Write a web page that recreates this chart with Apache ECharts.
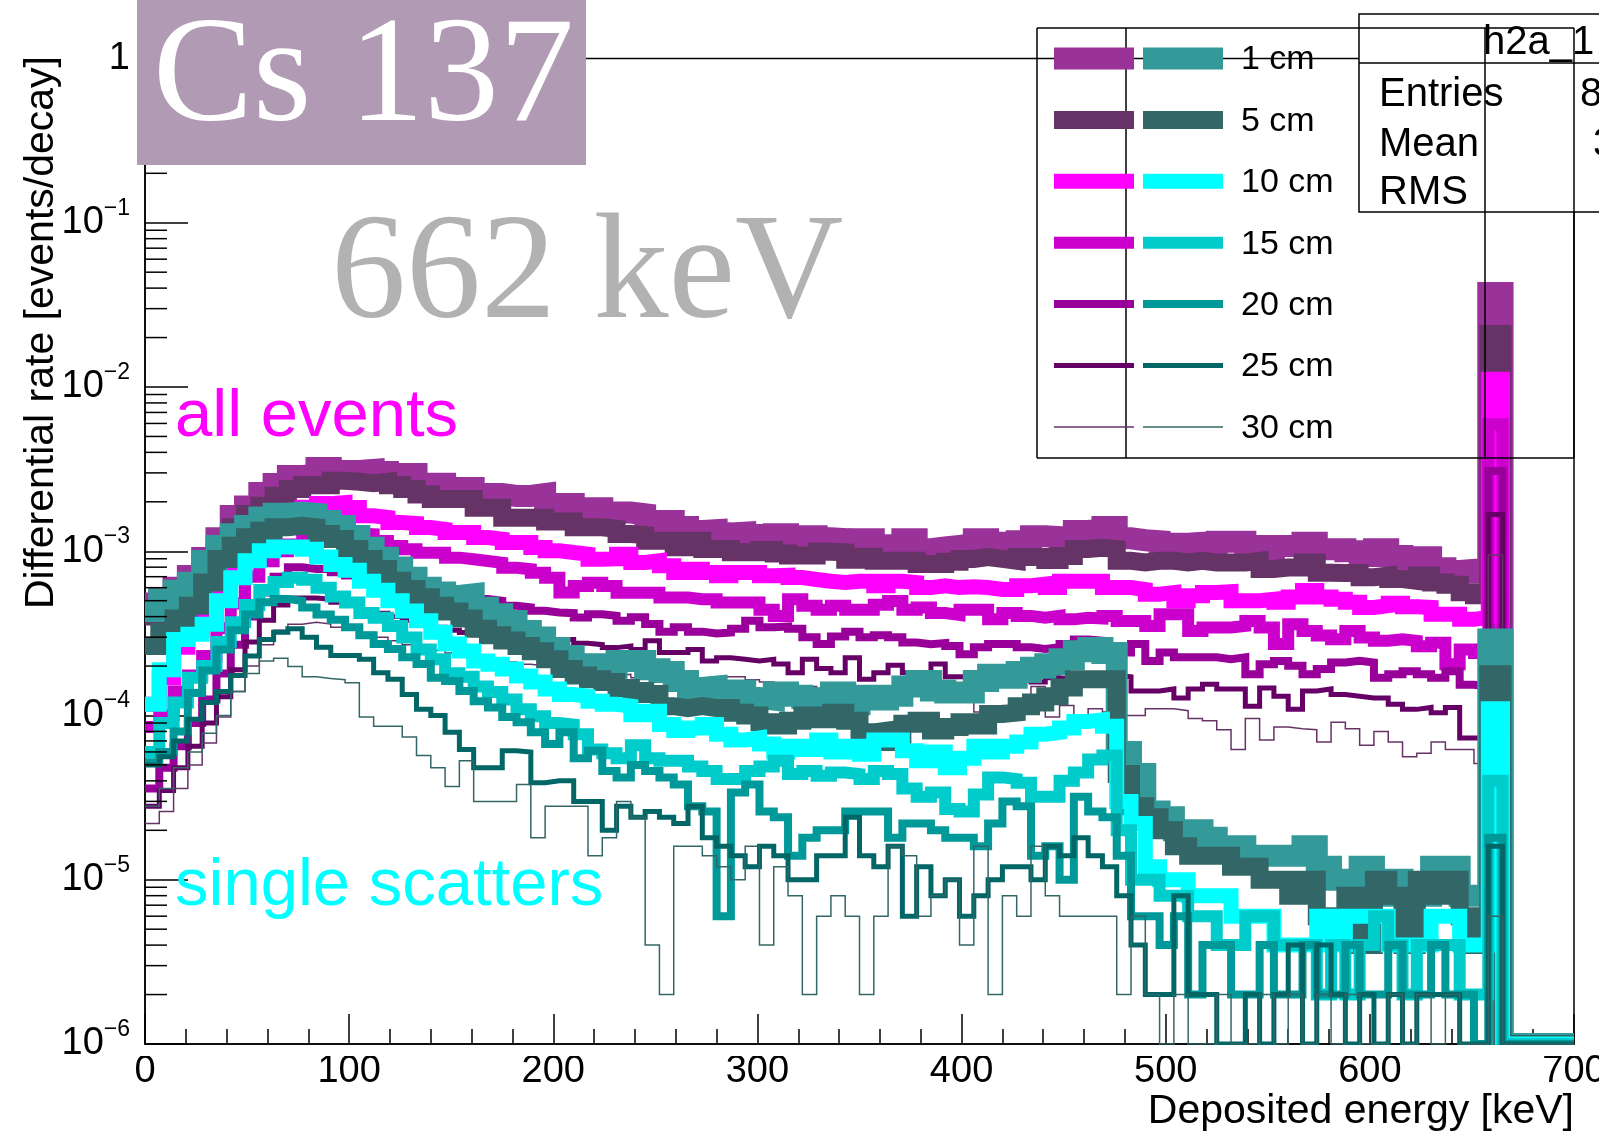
<!DOCTYPE html>
<html>
<head>
<meta charset="utf-8">
<script src="https://cdn.jsdelivr.net/npm/echarts@6/dist/echarts.min.js"></script>
<style>
  html, body { margin: 0; padding: 0; background: #fff; }
  #chart { width: 1599px; height: 1141px; }
</style>
</head>
<body>
<div id="chart"></div>
<script>
// Deposited-energy spectra of the Cs-137 662 keV line, 100 bins of 7 keV (0-700 keV).
// Rates are listed in units of 1e-6 events/decay; 0 marks an empty bin.
const BIN_KEV = 7;
const RATE_UNIT = 1e-6;
const Y_MIN = 1e-6;
const Y_MAX = 1;

const distances = ['1 cm', '5 cm', '10 cm', '15 cm', '20 cm', '25 cm', '30 cm'];
const allColors = ['#993399', '#663366', '#ff00ff', '#cc00cc', '#990099', '#660066', '#663366'];
const singleColors = ['#339999', '#336666', '#00ffff', '#00cccc', '#009999', '#006666', '#336666'];
const lineWidths = [22, 18, 15, 12, 8, 5, 1.5];

const xTicks = [0, 100, 200, 300, 400, 500, 600, 700];

// ---- all events ----
const allEvents1cm = [480, 520, 600, 707, 910, 1200, 1640, 1870, 2260, 2570, 2870, 2950, 3210, 3080,
  3080, 3130, 3040, 2950, 2950, 2580, 2580, 2430, 2430, 2230, 2230, 2170, 2170, 2230, 1940, 1940, 1830, 1830,
  1720, 1720, 1680, 1530, 1530, 1405, 1330, 1345, 1285, 1300, 1255, 1200, 1270, 1185, 1235, 1200, 1185, 1150,
  1185, 1087, 1087, 1185, 1030, 1055, 1077, 1103, 1185, 1125, 1077, 1150, 1235, 1220, 1150, 1330, 1360,
  1405, 1200, 1167, 1150, 1077, 1110, 1125, 1055, 1143, 1143, 1077, 1013, 1077, 1077, 1125, 1030, 1030, 1000,
  937, 1030, 937, 886, 920, 787, 758, 770, 745,
  37350, 0, 0, 0, 0, 0];

const allEvents5cm = [400, 430, 490, 604, 727, 1033, 1400, 1685, 1894, 2178, 2394, 2520, 2520,
  2690, 2650, 2600, 2650, 2520, 2394, 2213, 2080, 2080, 2080, 1840, 1840, 1600, 1600, 1600, 1520, 1520, 1400, 1400,
  1370, 1274, 1255, 1160, 1160, 1057, 1160, 1033, 1033, 985, 985, 1018, 970, 943, 943, 993, 985, 889, 926, 875,
  875, 875, 836, 836, 862, 898, 922, 898, 875, 922, 922, 884, 934, 1033, 1050,
  1033, 875, 855, 875, 875, 855, 875, 855, 855, 855, 875, 780, 797, 797, 855, 740, 737, 737, 694, 710,
  677, 660, 710, 645, 626, 562, 540,
  21020, 0, 0, 0, 0, 0];

const allEvents10cm = [117, 170, 260, 330, 400, 560, 780, 1020, 1280, 1500, 1700, 1850, 1950,
  1980, 1846, 1645, 1605, 1497, 1475, 1395, 1361, 1300, 1300, 1212, 1184, 1131, 1131, 1054, 1006, 983, 961, 895, 900,
  958, 854, 875, 816, 743, 778, 743, 710, 743, 743, 710, 715, 692, 673, 657, 645, 657, 657, 616, 657,
  645, 601, 616, 601, 608, 601, 585, 585, 616, 630, 601, 657, 657, 657,
  601, 601, 585, 548, 560, 500, 536, 560, 567, 500, 500, 510, 490, 527, 577, 527, 510, 490, 455, 467,
  483, 460, 455, 414, 414, 385, 395,
  11160, 0, 0, 0, 0, 0];

const allEvents15cm = [85, 100, 140, 175, 230, 340, 480, 700, 870, 1000, 1100, 1180, 1230, 1260, 1280,
  1269, 1155, 1077, 1028, 980, 979, 914, 893, 872, 851, 794, 777, 741, 690, 560, 614, 644, 614,
  559, 559, 559, 522, 522, 510, 510, 487, 487, 487, 441, 404, 510, 465, 441, 465, 441, 441, 472, 498,
  441, 455, 421, 410, 441, 441, 385, 421, 404, 394, 404, 385, 394, 390,
  404, 376, 376, 351, 413, 413, 327, 343, 343, 351, 376, 343, 272, 360, 327, 307, 291, 327, 298, 285,
  291, 285, 264, 277, 205, 252, 240,
  5930, 0, 0, 0, 0, 0];

const allEvents20cm = [36, 48, 65, 90, 125, 180, 270, 400, 560, 700, 799, 780, 780,
  744, 712, 662, 632, 604, 575, 562, 560, 590, 549, 512, 500, 466, 455, 434, 424, 420, 395, 414, 405,
  378, 397, 361, 324, 345, 324, 316, 320, 337, 378, 345, 348, 337, 299, 272, 303, 324, 299, 308, 299,
  278, 272, 276, 265, 236, 260, 272, 272, 260, 254, 260, 272, 290, 285,
  260, 242, 272, 215, 242, 226, 226, 226, 220, 226, 178, 205, 215, 201, 178, 192, 210, 215, 210, 170,
  178, 186, 178, 170, 186, 154, 150,
  3081, 0, 0, 0, 0, 0];

const allEvents25cm = [28, 35, 48, 65, 90, 130, 190, 280, 380, 470, 520, 520, 510, 490, 470, 440, 420, 400, 380, 360,
  345, 330, 320, 310, 300, 295, 290, 285, 280, 290, 275, 270, 259,
  265, 252, 285, 242, 242, 252, 215, 225, 220, 215, 220, 206, 182, 220, 193, 182, 225, 166, 182, 202,
  182, 177, 206, 172, 172, 168, 175, 165, 172, 160, 170, 166, 160, 165,
  175, 172, 141, 141, 145, 128, 145, 155, 145, 145, 114, 147, 131, 109, 141, 145, 134, 131, 128, 128,
  117, 109, 112, 104, 112, 73, 73,
  1674, 0, 0, 0, 0, 0];

const allEvents30cm = [22, 26, 36, 50, 68, 98, 140, 200, 270, 330, 360, 370, 360, 345, 330, 320, 300, 285, 270, 260,
  250, 240, 235, 225, 220, 212, 205, 200, 195, 190, 185, 180, 176,
  178, 170, 175, 168, 165, 170, 160, 172, 172, 165, 160, 146, 150, 150, 103, 130, 135, 128, 140, 125,
  132, 138, 130, 130, 125, 105, 107, 115, 115, 150, 98, 115, 95, 110, 105, 100,
  100, 110, 110, 107, 96, 93, 82, 62, 96, 71, 85, 83, 82, 69, 91, 83, 66, 80, 69, 56,
  59, 69, 62, 62, 51,
  949, 0, 0, 0, 0, 0];

// ---- single scatters ----
const single1cm = [433, 510, 575, 644, 872, 1077, 1269, 1425, 1605, 1690, 1723, 1690, 1528, 1425, 1238, 1052, 914, 796, 690, 600,
  560, 534, 547, 453, 413, 376, 327, 298, 258, 230, 205, 205, 195,
  215, 215, 191, 184, 162, 147, 150, 138, 142, 128, 125, 138, 132, 128, 125, 138, 117, 132, 125, 132,
  150, 162, 142, 138, 138, 162, 177, 170, 184, 195, 205, 220, 246, 258, 240,
  60, 44, 26, 24, 20, 20, 18, 16, 16, 14, 14, 14, 14, 16, 12, 10, 10, 12, 8, 10,
  8, 8, 12, 12, 8, 8,
  290, 0, 0, 0, 0, 0];

const single5cm = [265, 324, 390, 466, 646, 898, 1081, 1216, 1334, 1400, 1430, 1400, 1274, 1187, 1033, 898, 780, 662, 589, 524,
  466, 430, 390, 337, 308, 286, 265, 246, 220, 192, 175, 166, 160,
  147, 141, 135, 114, 111, 114, 111, 111, 104, 100, 91, 87, 93, 100, 95, 104, 93, 79, 81, 69,
  89, 93, 81, 85, 91, 87, 102, 104, 114, 120, 131, 148, 166, 166, 166,
  44, 28, 24, 20, 16, 14, 14, 14, 12, 12, 10, 10, 8, 10, 6, 6, 8, 4, 10, 8,
  4, 10, 8, 10, 6, 4,
  178, 0, 0, 0, 0, 0];

const single10cm = [117, 190, 290, 312, 360, 500, 690, 875, 1006, 1062, 1062, 1030, 923, 830, 767, 656, 579, 500, 432, 377,
  321, 272, 247, 215, 205, 192, 174, 160, 145, 134, 131, 122, 117,
  114, 101, 106, 88, 81, 84, 88, 77, 71, 73, 67, 60, 65, 62, 71, 60, 65, 58, 71, 71,
  61, 53, 60, 48, 55, 65, 60, 65, 69, 77, 79, 84, 92, 94, 86,
  30, 22, 12, 10, 10, 8, 8, 8, 6, 6, 6, 4, 4, 4, 6, 4, 6, 6, 6, 4,
  4, 4, 6, 6, 4, 4,
  110, 0, 0, 0, 0, 0];

const single15cm = [60, 90, 120, 170, 200, 280, 370, 470, 580, 650, 690, 670, 600, 530, 487, 421, 394, 351, 298, 252,
  220, 181, 172, 150, 139, 125, 109, 99, 90, 88, 77, 62, 59,
  55, 66, 55, 53, 53, 49, 46, 41, 41, 46, 49, 53, 44, 46, 43, 45, 44, 41, 46, 44,
  36, 32, 34, 27, 26, 33, 42, 41, 39, 32, 32, 40, 45, 54, 57,
  20, 10, 10, 8, 8, 6, 6, 4, 4, 6, 6, 4, 4, 4, 2, 4, 2, 4, 6, 4,
  2, 4, 4, 4, 2, 2,
  40, 0, 0, 0, 0, 0];

const single20cm = [52, 60, 80, 137, 188, 252, 330, 412, 490, 512, 500, 455, 412, 383, 345, 308, 272, 254, 226, 206,
  170, 162, 141, 122, 112, 98, 91, 79, 67, 79, 55, 61, 46,
  42, 50, 46, 42, 38, 28, 26, 6, 34, 38, 26, 24, 14, 18, 20, 20, 26, 26, 26, 18,
  22, 22, 20, 18, 18, 16, 22, 30, 28, 14, 16, 10, 32, 26, 24,
  14, 6, 6, 4, 6, 2, 4, 4, 2, 2, 4, 2, 2, 4, 2, 2, 4, 2, 2, 4,
  2, 2, 4, 2, 2, 0,
  18, 0, 0, 0, 0, 0];

const single25cm = [50, 56, 70, 95, 120, 140, 175, 230, 290, 321, 337, 300, 260, 232, 232, 220, 182, 166, 134, 109,
  100, 79, 62, 48, 48, 61, 60, 39, 40, 40, 30, 30, 20,
  28, 24, 26, 24, 22, 28, 18, 16, 14, 12, 16, 14, 10, 10, 14, 14, 24, 14, 12, 16,
  6, 12, 8, 10, 6, 8, 10, 12, 12, 10, 16, 14, 18, 14, 12,
  8, 4, 2, 2, 8, 2, 2, 0, 0, 2, 0, 2, 4, 0, 4, 2, 0, 2, 0, 2,
  0, 2, 2, 2, 0, 0,
  16, 0, 0, 0, 0, 0];

const single30cm = [28, 36, 48, 60, 78, 100, 140, 180, 215, 223, 199, 172, 168, 165, 158, 98, 86, 86, 74, 57,
  48, 37, 53, 30, 30, 30, 38, 18, 28, 28, 28, 14, 18,
  30, 24, 4, 2, 16, 16, 14, 12, 10, 16, 4, 12, 8, 2, 6, 8, 6, 2, 6, 16,
  14, 6, 8, 10, 4, 16, 2, 8, 6, 16, 8, 6, 6, 6, 6,
  2, 6, 2, 0, 2, 0, 0, 2, 0, 0, 2, 0, 2, 0, 2, 0, 2, 0, 0, 2,
  0, 2, 0, 2, 0, 0,
  6, 0, 0, 0, 0, 0];

const allEvents = [allEvents1cm, allEvents5cm, allEvents10cm, allEvents15cm, allEvents20cm, allEvents25cm, allEvents30cm];
const singleScatters = [single1cm, single5cm, single10cm, single15cm, single20cm, single25cm, single30cm];

// Histogram outline points: one point per lower bin edge plus the final upper edge.
// Empty bins sit on the floor of the log axis.
function histPoints(rates) {
  const pts = rates.map((r, i) => [i * BIN_KEV, r > 0 ? r * RATE_UNIT : Y_MIN]);
  pts.push([rates.length * BIN_KEV, pts[pts.length - 1][1]]);
  return pts;
}

function histSeries(name, rates, color, width) {
  return {
    name: name,
    type: 'line',
    step: 'end',
    data: histPoints(rates),
    showSymbol: false,
    symbol: 'none',
    silent: true,
    clip: true,
    lineStyle: { color: color, width: width, join: 'miter', cap: 'butt' },
    z: 2
  };
}

const series = [];
allEvents.forEach((r, i) => series.push(histSeries('all ' + distances[i], r, allColors[i], lineWidths[i])));
singleScatters.forEach((r, i) => series.push(histSeries('single ' + distances[i], r, singleColors[i], lineWidths[i])));

// Log-axis minor ticks at 2..9 x 10^k, drawn inward from the y axis.
const minorY = [];
for (let e = -6; e < 0; e++) {
  for (let m = 2; m <= 9; m++) minorY.push([0, m * Math.pow(10, e)]);
}
series.push({
  type: 'custom',
  silent: true,
  clip: false,
  z: 5,
  data: minorY,
  renderItem: function (params, api) {
    const p = api.coord([api.value(0), api.value(1)]);
    return {
      type: 'line',
      shape: { x1: p[0], y1: p[1], x2: p[0] + 22, y2: p[1] },
      style: { stroke: '#000', lineWidth: 1.5 }
    };
  }
});

const SANS = '"Liberation Sans", Arial, Helvetica, sans-serif';
const SERIF = '"Liberation Serif", "Times New Roman", serif';

// Plot frame in pixels
const gLeft = 145, gRight = 1574, gTop = 58.5, gBottom = 1044;

const graphics = [];
// strip under the x axis so floor-level lines stop at the frame
graphics.push({ type: 'rect', z: 40, silent: true,
  shape: { x: gLeft - 6, y: gBottom + 1, width: gRight - gLeft + 20, height: 11 },
  style: { fill: '#fff' } });

// isotope badge
graphics.push({ type: 'rect', z: 60, shape: { x: 137, y: 0, width: 449, height: 165 }, style: { fill: '#b09ab4' } });
graphics.push({ type: 'text', z: 61, x: 153, y: 81,
  style: { text: 'Cs 137', fill: '#fff', font: '150px ' + SERIF, textAlign: 'left', textVerticalAlign: 'middle' } });
graphics.push({ type: 'text', z: 61, x: 331, y: 278,
  style: { text: '662 keV', fill: '#b2b2b2', font: '150px ' + SERIF, textAlign: 'left', textVerticalAlign: 'middle' } });

// group annotations
graphics.push({ type: 'text', z: 61, x: 175, y: 418,
  style: { text: 'all events', fill: '#ff00ff', font: '67px ' + SANS, textAlign: 'left', textVerticalAlign: 'middle' } });
graphics.push({ type: 'text', z: 61, x: 175, y: 887,
  style: { text: 'single scatters', fill: '#00ffff', font: '67px ' + SANS, textAlign: 'left', textVerticalAlign: 'middle' } });

// axis titles
graphics.push({ type: 'text', z: 61, x: 42, y: 56, rotation: Math.PI / 2,
  style: { text: 'Differential rate [events/decay]', fill: '#000', font: '41px ' + SANS, textAlign: 'right', textVerticalAlign: 'middle' } });
graphics.push({ type: 'text', z: 61, x: gRight, y: 1112,
  style: { text: 'Deposited energy [keV]', fill: '#000', font: '41px ' + SANS, textAlign: 'right', textVerticalAlign: 'middle' } });

// statistics box
graphics.push({ type: 'rect', z: 62, shape: { x: 1359, y: 14, width: 270, height: 198 },
  style: { fill: '#fff', stroke: '#000', lineWidth: 1.5 } });
graphics.push({ type: 'line', z: 63, shape: { x1: 1359, y1: 63, x2: 1599, y2: 63 }, style: { stroke: '#000', lineWidth: 1.5 } });
graphics.push({ type: 'text', z: 63, x: 1483, y: 43, style: { text: 'h2a_1', fill: '#000', font: '40px ' + SANS, textAlign: 'left', textVerticalAlign: 'middle' } });
[['Entries', '8', 95, 1580], ['Mean', '3', 145, 1593], ['RMS', '', 193, 1593]].forEach(function (row) {
  graphics.push({ type: 'text', z: 63, x: 1379, y: row[2], style: { text: row[0], fill: '#000', font: '40px ' + SANS, textAlign: 'left', textVerticalAlign: 'middle' } });
  if (row[1]) graphics.push({ type: 'text', z: 63, x: row[3], y: row[2], style: { text: row[1], fill: '#000', font: '40px ' + SANS, textAlign: 'left', textVerticalAlign: 'middle' } });
});

// legend frame
const legTop = 28, legBottom = 458;
[1037, 1126, 1485, 1574].forEach(function (x) {
  graphics.push({ type: 'line', z: 64, shape: { x1: x, y1: legTop, x2: x, y2: legBottom }, style: { stroke: '#000', lineWidth: 1.5 } });
});
[legTop, legBottom].forEach(function (y) {
  graphics.push({ type: 'line', z: 64, shape: { x1: 1037, y1: y, x2: 1574, y2: y }, style: { stroke: '#000', lineWidth: 1.5 } });
});
// legend entries
distances.forEach(function (d, i) {
  const cy = 58.5 + i * 61.4;
  const w = lineWidths[i];
  graphics.push({ type: 'rect', z: 65, shape: { x: 1054, y: cy - w / 2, width: 80, height: w }, style: { fill: allColors[i] } });
  graphics.push({ type: 'rect', z: 65, shape: { x: 1143, y: cy - w / 2, width: 80, height: w }, style: { fill: singleColors[i] } });
  graphics.push({ type: 'text', z: 65, x: 1241, y: cy + 1.5, style: { text: d, fill: '#000', font: '34px ' + SANS, textAlign: 'left', textVerticalAlign: 'middle' } });
});

const chart = echarts.init(document.getElementById('chart'), null, { renderer: 'canvas' });
chart.setOption({
  animation: false,
  backgroundColor: '#fff',
  grid: {
    left: gLeft, right: 1599 - gRight, top: gTop, bottom: 1141 - gBottom,
    containLabel: false, outerBoundsMode: 'none',
    show: true, borderColor: '#000', borderWidth: 1.5, backgroundColor: 'transparent'
  },
  xAxis: {
    type: 'value', min: xTicks[0], max: xTicks[xTicks.length - 1], interval: xTicks[1] - xTicks[0],
    axisLine: { show: true, onZero: false, lineStyle: { color: '#000', width: 1.5 } },
    axisTick: { show: true, inside: true, length: 30, lineStyle: { color: '#000', width: 1.5 } },
    minorTick: { show: true, splitNumber: 5, length: 15, lineStyle: { color: '#000', width: 1.5 } },
    splitLine: { show: false },
    axisLabel: { color: '#000', fontSize: 38, fontFamily: SANS, margin: 9 }
  },
  yAxis: {
    type: 'log', logBase: 10, min: Y_MIN, max: Y_MAX, splitNumber: 6,
    axisLine: { show: true, onZero: false, lineStyle: { color: '#000', width: 1.5 } },
    axisTick: { show: true, inside: true, length: 43, lineStyle: { color: '#000', width: 1.5 } },
    splitLine: { show: false },
    axisLabel: {
      color: '#000', margin: 15, fontFamily: SANS,
      formatter: function (v) {
        const e = Math.round(Math.log10(v));
        if (e === 0) return '{b|1}';
        return '{b|10}{s|\u2212' + (-e) + '}';
      },
      rich: {
        b: { fontSize: 38, lineHeight: 38, fontFamily: SANS, color: '#000', verticalAlign: 'bottom' },
        s: { fontSize: 23, lineHeight: 23, fontFamily: SANS, color: '#000', verticalAlign: 'bottom', padding: [0, 0, 22, 0] }
      }
    }
  },
  series: series,
  graphic: { elements: graphics }
});
</script>
</body>
</html>
